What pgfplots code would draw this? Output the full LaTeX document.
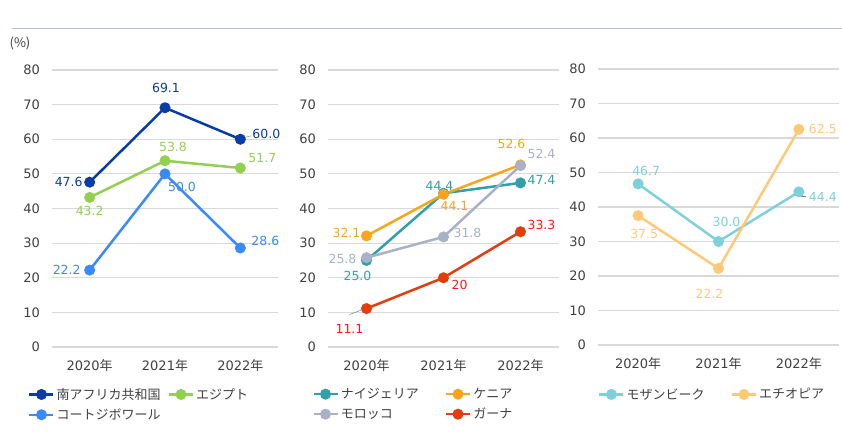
\documentclass[border=0pt]{standalone}
\usepackage{fontspec}
\setmainfont{DejaVu Sans}
\newfontfamily\jp{Noto Sans CJK JP}
\usepackage{pgfplots}
\pgfplotsset{compat=1.18}

% series colours
\definecolor{cSA}{HTML}{0A3CA8}
\definecolor{cEG}{HTML}{92D050}
\definecolor{cCI}{HTML}{3A89FF}
\definecolor{cNG}{HTML}{31A0A8}
\definecolor{cKE}{HTML}{F8A51C}
\definecolor{cMA}{HTML}{A8B1C8}
\definecolor{cGH}{HTML}{E53C0D}
\definecolor{cGHt}{HTML}{FF1A1A}
\definecolor{cMZ}{HTML}{7FD1D9}
\definecolor{cET}{HTML}{FFC978}
\definecolor{gridc}{HTML}{D9D9D9}
\definecolor{tickc}{HTML}{404040}
\definecolor{rulec}{HTML}{B4C3DA}

\tikzset{leader/.style={draw=gray, line width=0.5pt}}

\pgfplotsset{
  panel/.style={
    scale only axis, clip=false,
    anchor=south west,
    xmin=-0.5, xmax=2.5, ymin=0, ymax=80,
    ytick={0,10,...,80}, xtick={0,1,2},
    xticklabels={2020{\jp 年},2021{\jp 年},2022{\jp 年}},
    axis line style={draw=none}, tick style={draw=none},
    ymajorgrids, grid style={gridc, line width=1.2pt},
    tick label style={font=\fontsize{13}{15}\selectfont, text=tickc},
    /pgf/number format/assume math mode=true,
    yticklabel style={xshift=-8.5pt},
    xticklabel style={yshift=-9pt},
    legend cell align=left, legend columns=2,
    legend style={draw=none, fill=none, inner sep=0pt, anchor=north west,
      font=\jp\fontsize{13}{15}\selectfont, text=tickc, row sep=4pt},
    legend image code/.code={\draw[mark repeat=2,mark phase=2,#1]
      plot coordinates {(0pt,0pt)(12pt,0pt)(24pt,0pt)};},
  },
  ser/.style={color=#1, line width=2.5pt, mark=*, mark size=4.2pt, mark options={solid}},
  lbl/.style={nodes near coords, point meta=explicit symbolic,
    visualization depends on={\thisrow{dx} \as \dx},
    visualization depends on={\thisrow{dy} \as \dy},
    every node near coord/.append style={anchor=center, xshift=\dx, yshift=\dy,
      text=#1, font=\fontsize{12.5}{14}\selectfont, inner sep=0pt}},
}

\begin{document}
\begin{tikzpicture}
\path[use as bounding box] (0,0) rectangle (842pt,434pt);
\draw[rulec, line width=1.5pt] (12pt,405.5pt) -- (842pt,405.5pt);
\node[font=\jp\fontsize{13}{15}\selectfont, text=tickc] at (20pt,391pt) {(\%)};

% panel 1
\begin{axis}[panel, at={(52pt,87pt)}, width=226pt, height=277pt,
  legend style={at={(-0.106,-0.141)},
    /tikz/every even column/.append style={column sep=5pt}}]
\addplot[ser=cSA, lbl=cSA] table[x=x,y=y,meta=l] {
x y l dx dy
0 47.6 47.6 -21 0
1 69.1 69.1 1 20
2 60.0 60.0 26 5
};
\addlegendentry{南アフリカ共和国}
\addplot[ser=cEG, lbl=cEG] table[x=x,y=y,meta=l] {
x y l dx dy
0 43.2 43.2 0 -14
1 53.8 53.8 8 14
2 51.7 51.7 22 10
};
\addlegendentry{エジプト}
\addplot[ser=cCI, lbl=cCI] table[x=x,y=y,meta=l] {
x y l dx dy
0 22.2 22.2 -23 0
1 50.0 50.0 17 -13
2 28.6 28.6 25 7
};
\addlegendentry{コートジボワール}
\draw[leader] (axis cs:2,60) ++(3pt,1.5pt) -- ++(8pt,2pt);
\end{axis}

% panel 2
\begin{axis}[panel, at={(328pt,87pt)}, width=231pt, height=277pt,
  legend style={at={(-0.069,-0.141)},
    /tikz/every even column/.append style={column sep=24pt}}]
\addplot[ser=cNG, lbl=cNG] table[x=x,y=y,meta=l] {
x y l dx dy
0 25.0 25.0 -9 -16
1 44.4 44.4 -4 7
2 47.4 47.4 21 3
};
\addlegendentry{ナイジェリア}
\addplot[ser=cKE, lbl=cKE] table[x=x,y=y,meta=l] {
x y l dx dy
0 32.1 32.1 -20 3
1 44.1 44.1 11 -12
2 52.6 52.6 -9 21
};
\addlegendentry{ケニア}
\addplot[ser=cMA, lbl=cMA] table[x=x,y=y,meta=l] {
x y l dx dy
0 25.8 25.8 -24 -1
1 31.8 31.8 24 4
2 52.4 52.4 21 12
};
\addlegendentry{モロッコ}
\addplot[ser=cGH, lbl=cGHt] table[x=x,y=y,meta=l] {
x y l dx dy
0 11.1 11.1 -17 -20
1 20 20 16 -7
2 33.3 33.3 21 7
};
\addlegendentry{ガーナ}
\draw[leader] (axis cs:0,11.1) ++(-4pt,-1pt) -- ++(-13pt,-5pt);
\end{axis}

% panel 3
\begin{axis}[panel, at={(598pt,89pt)}, width=241pt, height=276pt,
  legend style={at={(0,-0.149)},
    /tikz/every even column/.append style={column sep=24pt}}]
\addplot[ser=cMZ, lbl=cMZ] table[x=x,y=y,meta=l] {
x y l dx dy
0 46.7 46.7 8 13
1 30.0 30.0 8 20
2 44.4 44.4 24 -5
};
\addlegendentry{モザンビーク}
\addplot[ser=cET, lbl=cET] table[x=x,y=y,meta=l] {
x y l dx dy
0 37.5 37.5 6 -18
1 22.2 22.2 -9 -25
2 62.5 62.5 24 0
};
\addlegendentry{エチオピア}
\draw[leader] (axis cs:2,44.4) ++(2pt,-1pt) -- ++(0pt,-3pt) -- ++(5pt,0pt);
\end{axis}
\end{tikzpicture}
\end{document}
